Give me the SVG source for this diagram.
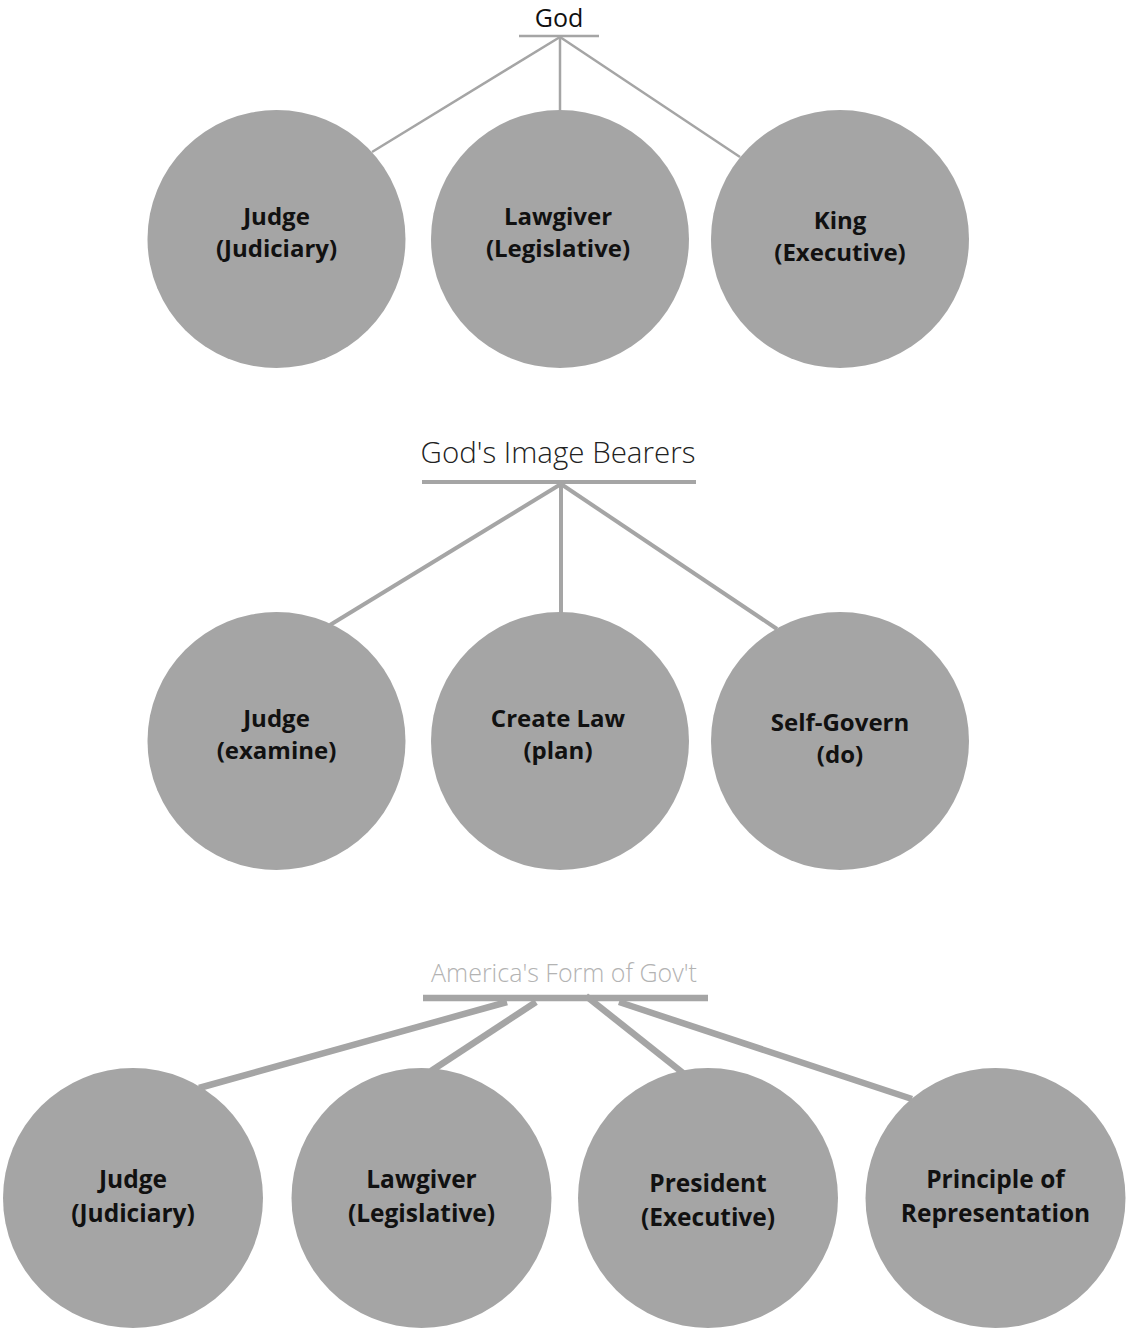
<svg xmlns="http://www.w3.org/2000/svg" width="1126" height="1330" viewBox="0 0 1126 1330">
<style>
.node{fill:#a5a5a5}
.lbl{font-family:"Open Sans","Liberation Sans",sans-serif;font-weight:700;font-size:24px;fill:#111;text-anchor:middle}
.lbl2{font-family:"Open Sans","Liberation Sans",sans-serif;font-weight:700;font-size:24.5px;fill:#111;text-anchor:middle}
.c1{stroke:#a5a5a5;stroke-width:2.5;fill:none}
.c2{stroke:#a5a5a5;stroke-width:4;fill:none}
.c3{stroke:#a5a5a5;stroke-width:6.5;fill:none}
.title{font-family:"Open Sans","Liberation Sans",sans-serif;text-anchor:middle}
</style>
<rect width="1126" height="1330" fill="#fff"/>
<g id="connectors">
<line class="c1" x1="519" y1="36" x2="599" y2="36"/>
<line class="c1" x1="560" y1="37" x2="372" y2="152"/>
<line class="c1" x1="560" y1="37" x2="560" y2="112"/>
<line class="c1" x1="560" y1="37" x2="740" y2="157"/>
<line class="c2" x1="422" y1="482" x2="696" y2="482"/>
<line class="c2" x1="561" y1="484" x2="330" y2="625"/>
<line class="c2" x1="561" y1="484" x2="561" y2="614"/>
<line class="c2" x1="561" y1="484" x2="777" y2="629"/>
<line class="c3" x1="423" y1="998" x2="708" y2="998"/>
<line class="c3" x1="507" y1="1002" x2="199" y2="1088"/>
<line class="c3" x1="536" y1="1002" x2="431" y2="1071"/>
<line class="c3" x1="586" y1="996" x2="683" y2="1073"/>
<line class="c3" x1="619" y1="1002" x2="912" y2="1099"/>
</g>
<g id="title-god"><text class="title" x="559" y="27" font-size="25" fill="#111">God</text></g>
<g id="title-image"><text class="title" x="558" y="463" font-size="29.5" font-weight="300" fill="#222">God's Image Bearers</text></g>
<g id="title-america"><text class="title" x="564" y="982" font-size="25" font-weight="300" fill="#b3b3b3">America's Form of Gov't</text></g>
<g id="n-judge1"><circle class="node" cx="276.5" cy="239" r="129"/><text class="lbl" x="276.5" y="225">Judge</text><text class="lbl" x="276.5" y="257">(Judiciary)</text></g>
<g id="n-lawgiver1"><circle class="node" cx="560" cy="239" r="129"/><text class="lbl" x="558" y="225">Lawgiver</text><text class="lbl" x="558" y="257">(Legislative)</text></g>
<g id="n-king"><circle class="node" cx="840" cy="239" r="129"/><text class="lbl" x="840" y="229">King</text><text class="lbl" x="840" y="261">(Executive)</text></g>
<g id="n-judge2"><circle class="node" cx="276.5" cy="741" r="129"/><text class="lbl" x="276.5" y="727">Judge</text><text class="lbl" x="276.5" y="759">(examine)</text></g>
<g id="n-createlaw"><circle class="node" cx="560" cy="741" r="129"/><text class="lbl" x="558" y="727">Create Law</text><text class="lbl" x="558" y="759">(plan)</text></g>
<g id="n-selfgovern"><circle class="node" cx="840" cy="741" r="129"/><text class="lbl" x="840" y="731">Self-Govern</text><text class="lbl" x="840" y="763">(do)</text></g>
<g id="n-judge3"><circle class="node" cx="133" cy="1198" r="130"/><text class="lbl2" x="133" y="1188">Judge</text><text class="lbl2" x="133" y="1222">(Judiciary)</text></g>
<g id="n-lawgiver3"><circle class="node" cx="421.5" cy="1198" r="130"/><text class="lbl2" x="421.5" y="1188">Lawgiver</text><text class="lbl2" x="421.5" y="1222">(Legislative)</text></g>
<g id="n-president"><circle class="node" cx="708" cy="1198" r="130"/><text class="lbl2" x="708" y="1192">President</text><text class="lbl2" x="708" y="1226">(Executive)</text></g>
<g id="n-principle"><circle class="node" cx="995.5" cy="1198" r="130"/><text class="lbl2" x="995.5" y="1188">Principle of</text><text class="lbl2" x="995.5" y="1222">Representation</text></g>
</svg>
